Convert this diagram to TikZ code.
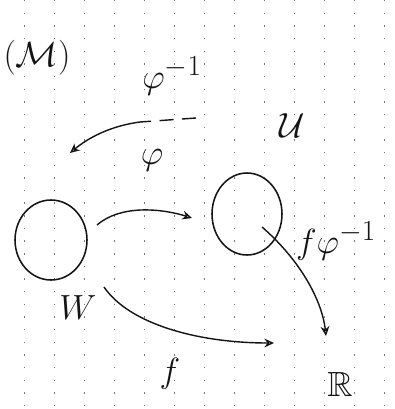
\documentclass[tikz,border=0pt]{standalone}
\usepackage{amsmath,amssymb}
\usetikzlibrary{arrows.meta,positioning,calc,shapes.geometric}
\definecolor{inkblack}{RGB}{20,20,20}
\definecolor{gridgray}{RGB}{120,120,120}

\begin{document}
\begin{tikzpicture}[x=0.025cm,y=-0.025cm,
    blob/.style={ellipse, draw=inkblack, line width=1.1pt, inner sep=0pt},
    maparrow/.style={draw=inkblack, line width=1pt, -{Stealth[open,length=2.4mm,width=2.2mm]}},
    lbl/.style={text=inkblack, font=\Huge}]
        \useasboundingbox (0,0) rectangle (395,409);
        \foreach \gx in {24,54,...,384}{
          \draw[gridgray, line width=0.6pt, dash pattern=on 1pt off 8pt] (\gx,0) -- (\gx,409);}
        \node[blob, minimum width=72*0.025cm, minimum height=80*0.025cm] (W) at (51,240) {};
        \node[blob, minimum width=70*0.025cm, minimum height=82*0.025cm] (V) at (247,214) {};
        \node[lbl] (M) at (37,58) {$(\mathcal{M})$};
        \node[lbl] (phiinv) at (172,76) {$\varphi^{-1}$};
        \node[lbl] (phi) at (152,160) {$\varphi$};
        \node[lbl] (U) at (292,126) {$\mathcal{U}$};
        \node[lbl] (wlbl) at (78,308) {$W$};
        \node[lbl] (fphi) at (336,241) {$f\varphi^{-1}$};
        \node[lbl] (flbl) at (170,374) {$f$};
        \node[lbl] (R) at (340,384) {$\mathbb{R}$};
        \coordinate (ptop) at (196,118);
        \coordinate (pmid) at (140,122);
        \coordinate (pend) at (70,153);
        \coordinate (wright) at (97,225);
        \coordinate (vleft) at (192,218);
        \coordinate (wlow) at (104,287);
        \coordinate (rleft) at (274,343);
        \coordinate (vin) at (262,227);
        \coordinate (rtop) at (326,336);
        \draw[inkblack, line width=1pt, dash pattern=on 10pt off 6pt] (ptop) -- (pmid);
        \draw[maparrow] (pmid) .. controls (110,126) and (88,138) .. (pend);
        \draw[maparrow] (wright) .. controls (120,205) and (160,208) .. (vleft);
        \draw[maparrow] (wlow) .. controls (130,325) and (200,343) .. (rleft);
        \draw[maparrow] (vin) .. controls (300,260) and (322,300) .. (rtop);
      \end{tikzpicture}
\end{document}
